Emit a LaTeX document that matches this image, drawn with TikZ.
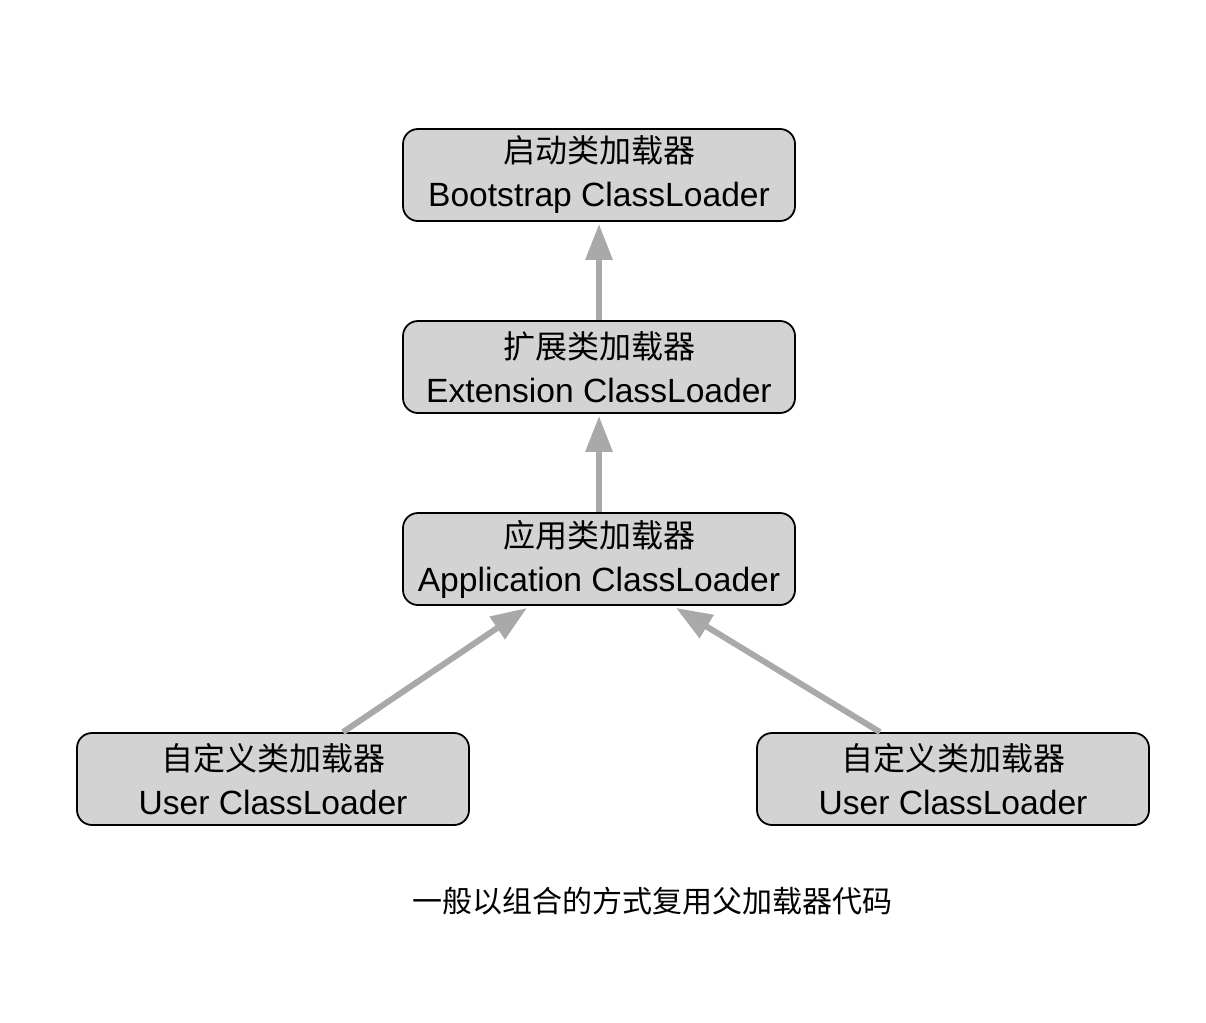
\documentclass[tikz,border=0pt]{standalone}
\usepackage{fontspec}
\setmainfont{Liberation Sans}
\newfontfamily\cjk{Noto Sans CJK SC}
\usetikzlibrary{arrows.meta,calc}
\definecolor{boxfill}{HTML}{D3D3D3}
\definecolor{arrowgray}{HTML}{A9A9A9}
\newcommand{\zh}[1]{{\cjk\fontsize{32}{44}\selectfont #1}}
\newcommand{\en}[1]{{\fontsize{33.6}{44}\selectfont #1}}
\begin{document}
\begin{tikzpicture}[x=1pt,y=-1pt,
  loader/.style={draw=black,line width=1.8pt,fill=boxfill,rounded corners=15pt,
    minimum width=392pt,minimum height=92pt,align=center,inner sep=0pt,
    font=\fontsize{32}{44}\selectfont},
  inherit/.style={draw=arrowgray,line width=6pt,-{Triangle[length=36pt,width=26pt]}}]
\useasboundingbox (0,0) rectangle (1206,1022);
\node[loader] (boot) at (599,175) {\zh{启动类加载器}\\\en{Bootstrap ClassLoader}};
\node[loader] (ext) at (599,367) {\zh{扩展类加载器}\\\en{Extension ClassLoader}};
\node[loader] (app) at (599,559) {\zh{应用类加载器}\\\en{Application ClassLoader}};
\node[loader] (ul) at (273,779) {\zh{自定义类加载器}\\\en{User ClassLoader}};
\node[loader] (ur) at (953,779) {\zh{自定义类加载器}\\\en{User ClassLoader}};
\node[font=\cjk\fontsize{30}{36}\selectfont] (cap) at (652,901) {一般以组合的方式复用父加载器代码};
\coordinate (ls) at ($(ul.north)+(70,0)$);
\coordinate (le) at ($(app.south)+(-72,2)$);
\coordinate (rs) at ($(ur.north)+(-73,0)$);
\coordinate (re) at ($(app.south)+(77,2)$);
\draw[inherit,shorten >=2pt] (ext.north) -- (boot.south);
\draw[inherit,shorten >=2pt] (app.north) -- (ext.south);
\draw[inherit] (ls) -- (le);
\draw[inherit] (rs) -- (re);
\end{tikzpicture}
\end{document}
